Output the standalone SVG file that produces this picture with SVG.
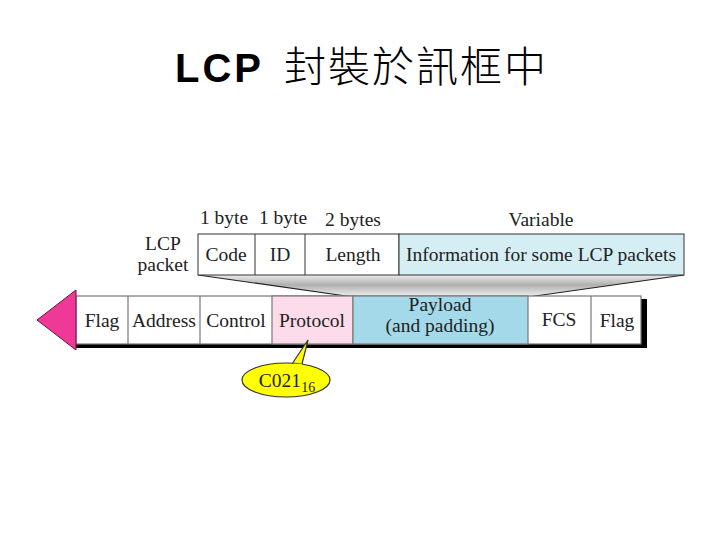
<svg xmlns="http://www.w3.org/2000/svg" width="720" height="540" viewBox="0 0 720 540">
<style>
.t{font-family:"Liberation Serif","DejaVu Serif",serif;font-size:19.5px;fill:#222;text-anchor:middle}
.c{stroke:#333;stroke-width:1}
.g{stroke:#777;stroke-width:1.2}
</style>
<defs>
<linearGradient id="fun" x1="0" y1="0" x2="0" y2="1">
<stop offset="0" stop-color="#ececec"/>
<stop offset="0.45" stop-color="#b0b0b0"/>
<stop offset="1" stop-color="#f2f2f2"/>
</linearGradient>
</defs>
<rect width="720" height="540" fill="#fff"/>
<g id="title">
<text x="175" y="82" font-family="Liberation Sans,Arial,sans-serif" font-weight="bold" font-size="40" fill="#000" letter-spacing="3">LCP</text>
<text x="284" y="82" font-family="Noto Sans CJK TC,Noto Sans CJK SC,sans-serif" font-weight="300" font-size="42" fill="#000" letter-spacing="2">封裝於訊框中</text>
</g>
<g id="connectors">
<polygon points="198,275 684,275 528,297 353,297" fill="url(#fun)"/>
<line x1="198" y1="275" x2="353" y2="297" stroke="#222" stroke-width="1.2"/>
<line x1="684" y1="275" x2="528" y2="297" stroke="#222" stroke-width="1.2"/>
</g>
<g id="lcp-packet">
<text class="t" x="163" y="250">LCP</text>
<text class="t" x="163" y="271">packet</text>
<text class="t" x="224" y="224">1 byte</text>
<text class="t" x="283" y="224">1 byte</text>
<text class="t" x="353" y="226">2 bytes</text>
<text class="t" x="541" y="226">Variable</text>
<rect x="198" y="234" width="201" height="41" fill="#fff" class="c"/>
<rect x="399" y="234" width="285" height="41" fill="#d5eef3" class="c"/>
<line x1="255" y1="234" x2="255" y2="275" class="c"/>
<line x1="305" y1="234" x2="305" y2="275" class="c"/>
<text class="t" x="226" y="261">Code</text>
<text class="t" x="280" y="261">ID</text>
<text class="t" x="353" y="261">Length</text>
<text class="t" x="541" y="261">Information for some LCP packets</text>
</g>
<g id="frame">
<rect x="641" y="299" width="6" height="49" fill="#000"/>
<rect x="76" y="344" width="571" height="4" fill="#000"/>
<rect x="76" y="296" width="565" height="48" fill="#fff" class="g"/>
<rect x="272" y="296" width="81" height="48" fill="#fcdcea" class="g"/>
<rect x="353" y="296" width="175" height="48" fill="#a3d9e8" class="g"/>
<line x1="128" y1="296" x2="128" y2="344" class="g"/>
<line x1="200" y1="296" x2="200" y2="344" class="g"/>
<line x1="591" y1="296" x2="591" y2="344" class="g"/>
<text class="t" x="102" y="327">Flag</text>
<text class="t" x="164" y="327">Address</text>
<text class="t" x="236" y="327">Control</text>
<text class="t" x="312" y="327">Protocol</text>
<text class="t" x="440" y="311">Payload</text>
<text class="t" x="440" y="332">(and padding)</text>
<text class="t" x="559" y="326">FCS</text>
<text class="t" x="617" y="327">Flag</text>
</g>
<g id="arrowhead">
<polygon points="37,320 76,290 76,350" fill="#ee3a96" stroke="#6a1040" stroke-width="1"/>
</g>
<g id="callout">
<path d="M292,364 L308,340 L302,364 Z" fill="#ffff00" stroke="#333" stroke-width="1.2"/>
<ellipse cx="286" cy="380" rx="44" ry="17" fill="#ffff00" stroke="#333" stroke-width="1.2"/>
<path d="M293,365 L302,365" stroke="#ffff00" stroke-width="2.5"/>
<text class="t" x="287" y="387" font-size="20">C021<tspan font-size="14" dy="5">16</tspan></text>
</g>
</svg>
